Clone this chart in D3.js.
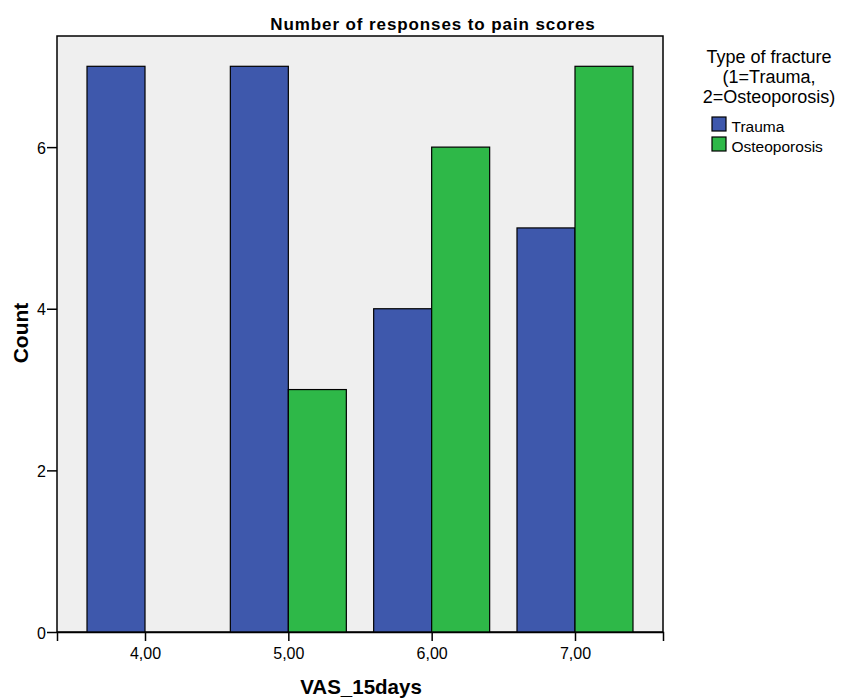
<!DOCTYPE html>
<html><head><meta charset="utf-8">
<script src="https://cdn.jsdelivr.net/npm/d3@7/dist/d3.min.js"></script>
<style>body{margin:0;background:#fff}svg{display:block}text{font-family:"Liberation Sans",Arial,sans-serif}</style>
</head><body>
<svg id="c" width="841" height="698"></svg>
<script>
const categories = ["4,00","5,00","6,00","7,00"];
const series = ["Trauma","Osteoporosis"];
const trauma = [7,7,4,5];
const osteoporosis = [0,3,6,7];
const yTicks = [0,2,4,6];
const colors = ["#3e58ac","#2eb848"];

const svg = d3.select("#c");
const L=57,R=663,T=36,B=632;
const x = d3.scalePoint().domain(categories).range([L,R]).padding(0.614);
const y = d3.scaleLinear().domain([0,7]).range([B,66.3]);
const barW = 58;

svg.append("rect").attr("x",L).attr("y",T).attr("width",R-L).attr("height",B-T)
  .attr("fill","#efefef").attr("stroke","#000").attr("stroke-width",1.5);

const data=[];
categories.forEach((c,i)=>{
  [trauma[i],osteoporosis[i]].forEach((v,j)=>{ if(v>0) data.push({c,v,j}); });
});
svg.selectAll("rect.bar").data(data).enter().append("rect").attr("class","bar")
  .attr("x",d=>x(d.c)+(d.j===0?-barW:0)).attr("width",barW)
  .attr("y",d=>y(d.v)).attr("height",d=>B-y(d.v))
  .attr("fill",d=>colors[d.j]).attr("stroke","#000").attr("stroke-width",1.2);

const ya = svg.append("g").attr("transform",`translate(${L},0)`)
  .call(d3.axisLeft(y).tickValues(yTicks).tickSize(10).tickFormat(d3.format("d")));
ya.select(".domain").remove();
ya.selectAll("line").attr("stroke","#000").attr("stroke-width",1.5);
ya.selectAll("text").attr("font-size",16).attr("fill","#000").attr("x",-11).attr("dy","0.38em");

const xa = svg.append("g").attr("transform",`translate(0,${B})`)
  .call(d3.axisBottom(x).tickSize(9));
xa.select(".domain").attr("stroke","#000").attr("stroke-width",1.5);
xa.selectAll("line").attr("stroke","#000").attr("stroke-width",1.5);
xa.selectAll("text").attr("font-size",16).attr("fill","#000").attr("y",16);

svg.append("text").attr("x",433).attr("y",30).attr("text-anchor","middle")
  .attr("font-size",17).attr("font-weight","bold").attr("letter-spacing",0.9)
  .text("Number of responses to pain scores");
svg.append("text").attr("transform","translate(28,333) rotate(-90)").attr("text-anchor","middle")
  .attr("font-size",21).attr("font-weight","bold").text("Count");
svg.append("text").attr("x",361).attr("y",694).attr("text-anchor","middle")
  .attr("font-size",20.5).attr("font-weight","bold").text("VAS_15days");

const legTitle=["Type of fracture","(1=Trauma,","2=Osteoporosis)"];
const ltY=[63,83,102.5];
svg.selectAll("text.lt").data(legTitle).enter().append("text").attr("class","lt")
  .attr("x",769).attr("y",(d,i)=>ltY[i]).attr("text-anchor","middle")
  .attr("font-size",18).text(d=>d);
const lg = svg.selectAll("g.li").data(series).enter().append("g").attr("class","li")
  .attr("transform",(d,i)=>`translate(712,${117+i*20})`);
lg.append("rect").attr("width",14).attr("height",14).attr("fill",(d,i)=>colors[i])
  .attr("stroke","#000").attr("stroke-width",1.2);
lg.append("text").attr("x",19.5).attr("y",14.5).attr("font-size",15.5).text(d=>d);
</script>
</body></html>
